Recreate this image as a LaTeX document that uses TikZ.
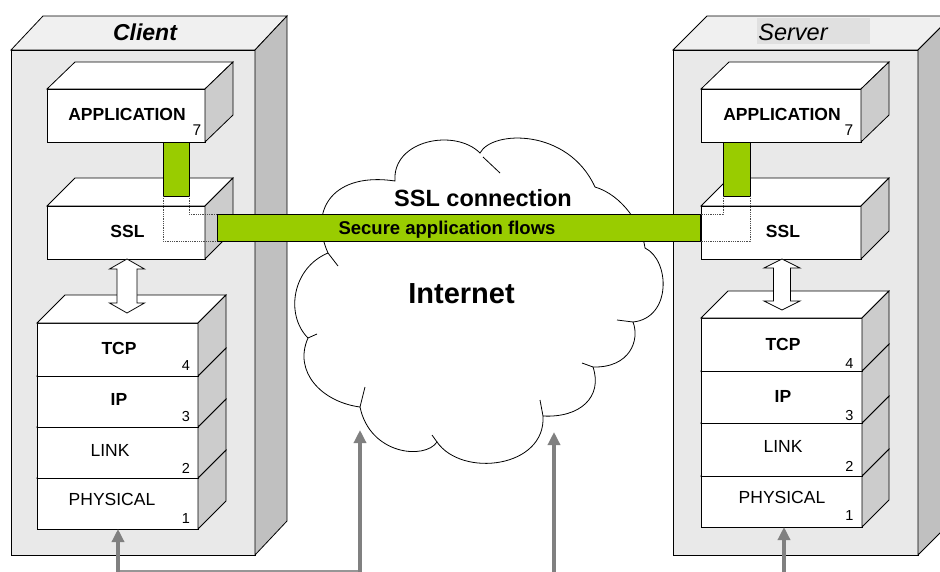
\documentclass[tikz,border=0pt]{standalone}
\usepackage{fontspec}
\setmainfont{Liberation Sans}
\usetikzlibrary{calc,arrows.meta}
\definecolor{boxfront}{RGB}{233,233,233}
\definecolor{boxtop}{RGB}{240,240,240}
\definecolor{boxside}{RGB}{192,192,192}
\definecolor{layside}{RGB}{204,204,204}
\definecolor{lblbg}{RGB}{224,224,224}
\definecolor{sslgreen}{RGB}{153,204,0}
\definecolor{arrowgray}{RGB}{128,128,128}
\definecolor{linegray}{RGB}{150,150,150}
\newcommand\faces[5]{%
  \filldraw[fill=#4] (#1.north west) -- ++(#2,-#3) -- ($(#1.north east)+(#2,-#3)$) -- (#1.north east) -- cycle;
  \filldraw[fill=#5] (#1.north east) -- ++(#2,-#3) -- ($(#1.south east)+(#2,-#3)$) -- (#1.south east) -- cycle;}
\newcommand\hollowarrow[5]{%
  \draw[hollowar] #1 -- ++(#4,#5) -- ++(#3-#4,0) -- ++(0,#2-2*#5) -- ++(#4-#3,0) -- ++(-#4,#5)
    -- ++(-#4,-#5) -- ++(#4-#3,0) -- ++(0,2*#5-#2) -- ++(#3-#4,0) -- cycle;}
\tikzset{
  bigfront/.style={draw, fill=boxfront, outer sep=0pt, inner sep=0pt, anchor=north west},
  layer/.style={draw, fill=white, outer sep=0pt, inner sep=0pt, anchor=north west},
  lab/.style={font=\fontsize{17.5}{20}\selectfont\bfseries, inner sep=0pt, anchor=base},
  labn/.style={font=\fontsize{17.5}{20}\selectfont, inner sep=0pt, anchor=base},
  num/.style={font=\fontsize{14.5}{16}\selectfont, inner sep=0pt, anchor=base},
  greenbar/.style={draw, fill=sslgreen, line width=0.9pt, outer sep=0pt, inner sep=0pt, anchor=north west},
  dotline/.style={densely dotted, line width=0.8pt, draw=black!70},
  hollowar/.style={draw, fill=white, line width=0.8pt},
  grayarrow/.style={draw=arrowgray, line width=4.5pt, -{Triangle[length=13pt,width=12pt]}},
  grayline/.style={draw=linegray, line width=2pt},
  cloudline/.style={draw, line width=0.8pt, fill=white},
  tick/.style={draw, line width=0.8pt}
}
\begin{document}
\begin{tikzpicture}[x=1pt,y=-1pt,line width=0.8pt]
\useasboundingbox (0,0) rectangle (940,572);
\clip (0,0) rectangle (940,572);

% big boxes
\node[bigfront, minimum width=244pt, minimum height=505pt] (client) at (11,50) {};
\faces{client}{32}{34}{boxtop}{boxside}
\node[bigfront, minimum width=245pt, minimum height=505pt] (server) at (673,50) {};
\faces{server}{34}{34}{boxtop}{boxside}

\node[font=\fontsize{23}{26}\selectfont\bfseries\itshape, inner sep=0pt, anchor=base] (clientlbl) at (145,41) {Client};
\node[fill=lblbg, anchor=north west, minimum height=26pt, minimum width=113pt, inner sep=0pt] (serverbg) at (757,18) {};
\node[font=\fontsize{23.5}{26}\selectfont\itshape, inner sep=0pt, anchor=base] (serverlbl) at (793,41) {Server};

% application boxes
\node[layer, minimum width=158pt, minimum height=53pt] (appC) at (47,89) {};
\faces{appC}{28}{27}{white}{layside}
\node[lab] (appCt) at (127,121) {APPLICATION};
\node[num, font=\fontsize{15.5}{17}\selectfont] (appCn) at (197,136) {7};

\node[layer, minimum width=160pt, minimum height=53pt] (appS) at (701,89) {};
\faces{appS}{28}{27}{white}{layside}
\node[lab] (appSt) at (782,121) {APPLICATION};
\node[num, font=\fontsize{15.5}{17}\selectfont] (appSn) at (849,136) {7};

% SSL boxes
\node[layer, minimum width=158pt, minimum height=53pt] (sslC) at (47,206) {};
\faces{sslC}{28}{28}{white}{layside}
\node[layer, minimum width=160pt, minimum height=53pt] (sslS) at (701,206) {};
\faces{sslS}{28}{28}{white}{layside}

% client stack (bottom row first)
\node[layer, minimum width=161pt, minimum height=51pt] (physC) at (37,478) {};
\faces{physC}{28}{28}{white}{layside}
\node[layer, minimum width=161pt, minimum height=51pt] (linkC) at (37,427) {};
\faces{linkC}{28}{28}{white}{layside}
\node[layer, minimum width=161pt, minimum height=51pt] (ipC) at (37,376) {};
\faces{ipC}{28}{28}{white}{layside}
\node[layer, minimum width=161pt, minimum height=53pt] (tcpC) at (37,323) {};
\faces{tcpC}{28}{28}{white}{layside}
\node[lab] (tcpCt) at (119,354) {TCP};
\node[num] (tcpCn) at (186,370) {4};
\node[lab] (ipCt) at (119,405) {IP};
\node[num] (ipCn) at (186,421) {3};
\node[labn] (linkCt) at (110,456) {LINK};
\node[num] (linkCn) at (186,473) {2};
\node[labn] (physCt) at (112,505) {PHYSICAL};
\node[num] (physCn) at (186,523) {1};

% server stack
\node[layer, minimum width=161pt, minimum height=51pt] (physS) at (701,476) {};
\faces{physS}{27}{27}{white}{layside}
\node[layer, minimum width=161pt, minimum height=53pt] (linkS) at (701,423) {};
\faces{linkS}{27}{27}{white}{layside}
\node[layer, minimum width=161pt, minimum height=52pt] (ipS) at (701,371) {};
\faces{ipS}{27}{27}{white}{layside}
\node[layer, minimum width=161pt, minimum height=53pt] (tcpS) at (701,318) {};
\faces{tcpS}{27}{27}{white}{layside}
\node[lab] (tcpSt) at (783,350) {TCP};
\node[num] (tcpSn) at (849.5,368) {4};
\node[lab] (ipSt) at (783,402) {IP};
\node[num] (ipSn) at (849.5,420) {3};
\node[labn] (linkSt) at (783,452) {LINK};
\node[num] (linkSn) at (849.5,471.5) {2};
\node[labn] (physSt) at (782,503) {PHYSICAL};
\node[num] (physSn) at (849.5,520) {1};

% hollow double arrows SSL <-> TCP
\hollowarrow{([xshift=1pt]sslC.south)}{54}{10}{17.5}{10}
\hollowarrow{([xshift=1pt]sslS.south)}{51}{8.5}{18}{9}

% cloud
\draw[cloudline] (328,253) .. controls (308,208) and (335,172) .. (395,181)
  .. controls (392,140) and (455,128) .. (480,153)
  .. controls (492,130) and (568,128) .. (595,187)
  .. controls (622,195) and (642,225) .. (645,248)
  .. controls (670,260) and (672,318) .. (633,322)
  .. controls (640,340) and (630,368) .. (593,367)
  .. controls (603,397) and (580,418) .. (543,416)
  .. controls (546,468) and (462,478) .. (437,442)
  .. controls (425,460) and (370,455) .. (360,407)
  .. controls (322,402) and (293,372) .. (308,338)
  .. controls (285,315) and (292,268) .. (328,253) -- cycle;
\draw[tick] (328,253) -- (338,266);
\draw[tick] (483,157) -- (500,173);
\draw[tick] (633,322) -- (617,320);
\draw[tick] (593,367) -- (582,363);
\draw[tick] (543,416) -- (540,400);
\draw[tick] (437,442) -- (432,435);
\draw[tick] (360,407) -- (365,387);
\draw[tick] (308,338) -- (317,334);

\node[font=\fontsize{23.5}{26}\selectfont\bfseries, inner sep=0pt, anchor=base] (sslconn) at (483,207) {SSL connection};
\node[font=\fontsize{29}{32}\selectfont\bfseries, inner sep=0pt, anchor=base] (inet) at (461.5,303) {Internet};

% green flows
\node[greenbar, minimum width=26pt, minimum height=54pt] (vbarC) at (163,142) {};
\node[greenbar, minimum width=27pt, minimum height=54pt] (vbarS) at (723,142) {};
\node[greenbar, minimum width=483pt, minimum height=27pt] (flow) at (217,214) {};
\node[font=\fontsize{18.5}{20}\selectfont\bfseries, inner sep=0pt, anchor=base] (flowtxt) at (447,235) {Secure application flows};

\draw[dotline] (vbarC.south west) |- (flow.south west);
\draw[dotline] (vbarC.south east) |- (flow.north west);
\draw[dotline] (vbarS.south west) |- (flow.north east);
\draw[dotline] (vbarS.south east) |- (flow.south east);

\node[lab] (sslCt) at (127.5,238) {SSL};
\node[lab] (sslSt) at (783,238) {SSL};

% physical links
\coordinate (srcA) at (118,572);
\coordinate (srcB) at (360,572);
\coordinate (inB) at (360,430);
\coordinate (srcC) at (554,572);
\coordinate (inC) at (554,432);
\coordinate (srcD) at (784,572);
\draw[grayline] ([yshift=1.5pt]srcA) -- ([yshift=1.5pt]srcB);
\draw[grayarrow] (srcA) -- (srcA |- physC.south);
\draw[grayarrow] (srcB) -- (inB);
\draw[grayarrow] (srcC) -- (inC);
\draw[grayarrow] (srcD) -- (srcD |- physS.south);
\end{tikzpicture}
\end{document}
